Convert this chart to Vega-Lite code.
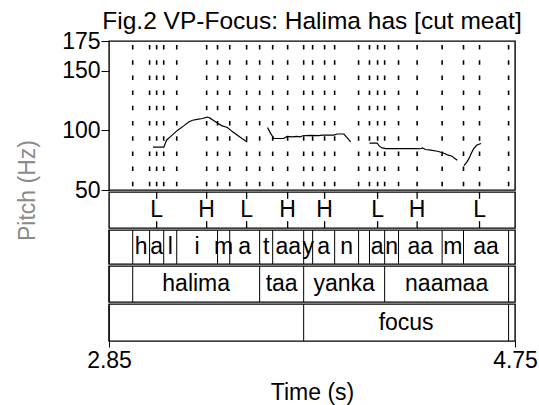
{
  "$schema": "https://vega.github.io/schema/vega-lite/v6.json",
  "padding": {"left": 15, "top": 7, "right": 5, "bottom": 5},
  "background": "white",
  "spacing": 2,
  "bounds": "flush",
  "config": {
    "font": "Liberation Sans",
    "view": {"stroke": "black", "strokeWidth": 1.4},
    "axis": {"labelFont": "Liberation Sans", "titleFont": "Liberation Sans", "labelColor": "black", "titleColor": "black", "tickColor": "black", "domain": false, "grid": false, "labelFontSize": 23, "titleFontSize": 23, "titleFontWeight": "normal"}
  },
  "datasets": {
    "pitch": [
      {"seg": 1, "t": 3.056, "hz": 86}, {"seg": 1, "t": 3.107, "hz": 86}, {"seg": 1, "t": 3.113, "hz": 89}, {"seg": 1, "t": 3.120, "hz": 92}, {"seg": 1, "t": 3.139, "hz": 95}, {"seg": 1, "t": 3.170, "hz": 100}, {"seg": 1, "t": 3.201, "hz": 104}, {"seg": 1, "t": 3.223, "hz": 107}, {"seg": 1, "t": 3.241, "hz": 108.5}, {"seg": 1, "t": 3.263, "hz": 109.2}, {"seg": 1, "t": 3.287, "hz": 110}, {"seg": 1, "t": 3.310, "hz": 111.2}, {"seg": 1, "t": 3.321, "hz": 110.5}, {"seg": 1, "t": 3.334, "hz": 109}, {"seg": 1, "t": 3.357, "hz": 106.2}, {"seg": 1, "t": 3.377, "hz": 104}, {"seg": 1, "t": 3.404, "hz": 102.4}, {"seg": 1, "t": 3.427, "hz": 99}, {"seg": 1, "t": 3.451, "hz": 95.9}, {"seg": 1, "t": 3.474, "hz": 93}, {"seg": 1, "t": 3.497, "hz": 90.3},
      {"seg": 2, "t": 3.592, "hz": 102.5}, {"seg": 2, "t": 3.606, "hz": 97.5}, {"seg": 2, "t": 3.622, "hz": 93.2}, {"seg": 2, "t": 3.667, "hz": 93.2}, {"seg": 2, "t": 3.684, "hz": 95}, {"seg": 2, "t": 3.709, "hz": 94.5}, {"seg": 2, "t": 3.728, "hz": 95}, {"seg": 2, "t": 3.747, "hz": 94.5}, {"seg": 2, "t": 3.755, "hz": 95.5}, {"seg": 2, "t": 3.793, "hz": 95.8}, {"seg": 2, "t": 3.831, "hz": 95.6}, {"seg": 2, "t": 3.850, "hz": 96}, {"seg": 2, "t": 3.902, "hz": 96}, {"seg": 2, "t": 3.918, "hz": 97}, {"seg": 2, "t": 3.949, "hz": 97}, {"seg": 2, "t": 3.964, "hz": 94}, {"seg": 2, "t": 3.981, "hz": 90.3},
      {"seg": 3, "t": 4.069, "hz": 89.4}, {"seg": 3, "t": 4.105, "hz": 89.4}, {"seg": 3, "t": 4.114, "hz": 87}, {"seg": 3, "t": 4.126, "hz": 85.5}, {"seg": 3, "t": 4.144, "hz": 84.7}, {"seg": 3, "t": 4.214, "hz": 84.7}, {"seg": 3, "t": 4.285, "hz": 84.7}, {"seg": 3, "t": 4.308, "hz": 84.6}, {"seg": 3, "t": 4.317, "hz": 85.3}, {"seg": 3, "t": 4.331, "hz": 84}, {"seg": 3, "t": 4.355, "hz": 83.5}, {"seg": 3, "t": 4.387, "hz": 82.5}, {"seg": 3, "t": 4.415, "hz": 81}, {"seg": 3, "t": 4.434, "hz": 79.5}, {"seg": 3, "t": 4.453, "hz": 78.5}, {"seg": 3, "t": 4.480, "hz": 75},
      {"seg": 4, "t": 4.511, "hz": 70.5}, {"seg": 4, "t": 4.523, "hz": 73}, {"seg": 4, "t": 4.535, "hz": 76.5}, {"seg": 4, "t": 4.546, "hz": 81}, {"seg": 4, "t": 4.556, "hz": 84.5}, {"seg": 4, "t": 4.570, "hz": 87.5}, {"seg": 4, "t": 4.591, "hz": 89}
    ],
    "tones": [
      {"time": 3.073, "tone": "L"}, {"time": 3.307, "tone": "H"}, {"time": 3.494, "tone": "L"}, {"time": 3.686, "tone": "H"}, {"time": 3.859, "tone": "H"}, {"time": 4.107, "tone": "L"}, {"time": 4.292, "tone": "H"}, {"time": 4.584, "tone": "L"}
    ],
    "syllables": [
      {"start": 2.85, "end": 2.961, "label": ""}, {"start": 2.961, "end": 3.040, "label": "h"}, {"start": 3.040, "end": 3.106, "label": "a"}, {"start": 3.106, "end": 3.167, "label": "l"}, {"start": 3.167, "end": 3.358, "label": "i"}, {"start": 3.358, "end": 3.415, "label": "m"}, {"start": 3.415, "end": 3.555, "label": "a"}, {"start": 3.555, "end": 3.616, "label": "t"}, {"start": 3.616, "end": 3.761, "label": "aa"}, {"start": 3.761, "end": 3.803, "label": "y"}, {"start": 3.803, "end": 3.906, "label": "a"}, {"start": 3.906, "end": 4.018, "label": "n"}, {"start": 4.018, "end": 4.069, "label": ""}, {"start": 4.069, "end": 4.140, "label": "a"}, {"start": 4.140, "end": 4.205, "label": "n"}, {"start": 4.205, "end": 4.409, "label": "aa"}, {"start": 4.409, "end": 4.509, "label": "m"}, {"start": 4.509, "end": 4.720, "label": "aa"}, {"start": 4.720, "end": 4.75, "label": ""}
    ],
    "words": [
      {"start": 2.85, "end": 2.961, "label": ""}, {"start": 2.961, "end": 3.555, "label": "halima"}, {"start": 3.555, "end": 3.761, "label": "taa"}, {"start": 3.761, "end": 4.140, "label": "yanka"}, {"start": 4.140, "end": 4.720, "label": "naamaa"}, {"start": 4.720, "end": 4.75, "label": ""}
    ],
    "focus": [
      {"start": 2.85, "end": 3.761, "label": ""}, {"start": 3.761, "end": 4.720, "label": "focus"}, {"start": 4.720, "end": 4.75, "label": ""}
    ]
  },
  "vconcat": [
    {
      "width": 406,
      "height": 149,
      "title": {"text": "Fig.2 VP-Focus: Halima has [cut meat]", "fontSize": 24.5, "fontWeight": "normal", "anchor": "middle", "frame": "group", "baseline": "alphabetic", "offset": -23, "color": "black", "font": "Liberation Sans"},
      "layer": [
        {
          "data": {"name": "syllables"},
          "transform": [{"filter": "datum.start > 2.86"}],
          "mark": {"type": "rule", "color": "black", "strokeWidth": 1.6, "strokeDash": [4.5, 10.7], "strokeDashOffset": 11.2},
          "encoding": {
            "x": {"field": "start", "type": "quantitative", "scale": {"domain": [2.85, 4.75], "nice": false, "zero": false}, "axis": null},
            "y": {"datum": 175, "type": "quantitative", "scale": {"domain": [50, 175], "nice": false, "zero": false}},
            "y2": {"datum": 50}
          }
        },
        {
          "data": {"name": "tones"},
          "mark": {"type": "rule", "color": "black", "strokeWidth": 1.6, "strokeDash": [4.5, 10.7], "strokeDashOffset": 11.2},
          "encoding": {
            "x": {"field": "time", "type": "quantitative"},
            "y": {"datum": 175, "type": "quantitative"},
            "y2": {"datum": 50}
          }
        },
        {
          "data": {"name": "pitch"},
          "mark": {"type": "line", "color": "black", "strokeWidth": 1.2},
          "encoding": {
            "x": {"field": "t", "type": "quantitative"},
            "y": {"field": "hz", "type": "quantitative", "axis": {"values": [50, 100, 150, 175], "format": "d", "tickSize": 8, "labelPadding": 1, "title": "Pitch (Hz)", "titleColor": "#8a8a8a", "titleX": -82, "titleY": 149, "titleAngle": -90, "titleAlign": "center", "titleBaseline": "middle"}},
            "detail": {"field": "seg", "type": "nominal"}
          }
        }
      ]
    },
    {
      "width": 406,
      "height": 36,
      "data": {"name": "tones"},
      "layer": [
        {
          "mark": {"type": "rule", "color": "black", "strokeWidth": 1.3},
          "encoding": {
            "x": {"field": "time", "type": "quantitative", "scale": {"domain": [2.85, 4.75], "nice": false, "zero": false}, "axis": null},
            "y": {"datum": 1, "type": "quantitative", "scale": {"domain": [0, 1], "nice": false}, "axis": null},
            "y2": {"datum": 0.81}
          }
        },
        {
          "mark": {"type": "rule", "color": "black", "strokeWidth": 1.3},
          "encoding": {
            "x": {"field": "time", "type": "quantitative"},
            "y": {"datum": 0, "type": "quantitative"},
            "y2": {"datum": 0.19}
          }
        },
        {
          "mark": {"type": "text", "fontSize": 23, "baseline": "middle", "align": "center", "color": "black"},
          "encoding": {
            "x": {"field": "time", "type": "quantitative"},
            "y": {"datum": 0.5, "type": "quantitative"},
            "text": {"field": "tone", "type": "nominal"}
          }
        }
      ]
    },
    {
      "width": 406,
      "height": 34,
      "data": {"name": "syllables"},
      "layer": [
        {
          "mark": {"type": "rule", "color": "black", "strokeWidth": 1},
          "encoding": {
            "x": {"field": "start", "type": "quantitative", "scale": {"domain": [2.85, 4.75], "nice": false, "zero": false}, "axis": null}
          }
        },
        {
          "transform": [{"filter": "datum.label != ''"}, {"fold": ["start", "end"], "as": ["edge", "time"]}, {"aggregate": [{"op": "mean", "field": "time", "as": "mid"}], "groupby": ["label", "start"]}],
          "mark": {"type": "text", "fontSize": 23, "baseline": "middle", "align": "center", "color": "black"},
          "encoding": {
            "x": {"field": "mid", "type": "quantitative"},
            "text": {"field": "label", "type": "nominal"}
          }
        }
      ]
    },
    {
      "width": 406,
      "height": 36,
      "data": {"name": "words"},
      "layer": [
        {
          "mark": {"type": "rule", "color": "black", "strokeWidth": 1},
          "encoding": {
            "x": {"field": "start", "type": "quantitative", "scale": {"domain": [2.85, 4.75], "nice": false, "zero": false}, "axis": null}
          }
        },
        {
          "transform": [{"filter": "datum.label != ''"}, {"fold": ["start", "end"], "as": ["edge", "time"]}, {"aggregate": [{"op": "mean", "field": "time", "as": "mid"}], "groupby": ["label", "start"]}],
          "mark": {"type": "text", "fontSize": 23, "baseline": "middle", "align": "center", "color": "black"},
          "encoding": {
            "x": {"field": "mid", "type": "quantitative"},
            "text": {"field": "label", "type": "nominal"}
          }
        }
      ]
    },
    {
      "width": 406,
      "height": 37,
      "data": {"name": "focus"},
      "layer": [
        {
          "mark": {"type": "rule", "color": "black", "strokeWidth": 1},
          "encoding": {
            "x": {"field": "start", "type": "quantitative", "scale": {"domain": [2.85, 4.75], "nice": false, "zero": false}, "axis": {"values": [2.85, 4.75], "format": ".2f", "labelFlush": false, "tickSize": 6, "labelPadding": 2, "title": "Time (s)", "titlePadding": 9}}
          }
        },
        {
          "transform": [{"filter": "datum.label != ''"}, {"fold": ["start", "end"], "as": ["edge", "time"]}, {"aggregate": [{"op": "mean", "field": "time", "as": "mid"}], "groupby": ["label", "start"]}],
          "mark": {"type": "text", "fontSize": 23, "baseline": "middle", "align": "center", "color": "black"},
          "encoding": {
            "x": {"field": "mid", "type": "quantitative"},
            "text": {"field": "label", "type": "nominal"}
          }
        }
      ]
    }
  ]
}
